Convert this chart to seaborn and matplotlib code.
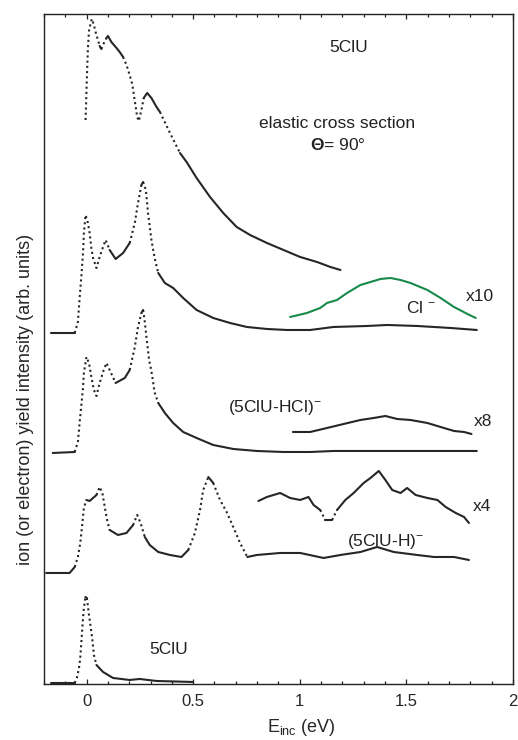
import matplotlib

matplotlib.use("Agg")
import matplotlib.pyplot as plt
import numpy as np
import seaborn as sns
from matplotlib.ticker import MultipleLocator

# energies in eV, intensities in arbitrary units (stacked as in the figure)
elastic_e = [-0.005, 0.001, 0.006, 0.011, 0.019, 0.025, 0.034, 0.042, 0.053, 0.061,
             0.069, 0.081, 0.093, 0.100, 0.116, 0.140, 0.155, 0.171, 0.187, 0.202,
             0.215, 0.223, 0.231, 0.237, 0.245, 0.257, 0.268, 0.284, 0.304, 0.328,
             0.344, 0.391, 0.438, 0.469, 0.516, 0.579, 0.641, 0.704, 0.767, 0.846,
             0.924, 1.002, 1.081, 1.144, 1.191]
elastic_y = [564, 606, 636, 653, 661, 665, 659, 652, 644, 638,
             635, 641, 646, 648, 642, 636, 632, 627, 619, 609,
             599, 587, 576, 567, 563, 574, 586, 591, 586, 577,
             572, 551, 531, 522, 506, 487, 471, 457, 449, 441,
             434, 427, 422, 417, 414]

cl_e = [-0.166, -0.056, -0.041, -0.033, -0.025, -0.017, -0.013, -0.005, 0.006, 0.014,
        0.022, 0.030, 0.046, 0.061, 0.077, 0.089, 0.108, 0.136, 0.171, 0.202,
        0.226, 0.241, 0.257, 0.265, 0.278, 0.288, 0.304, 0.320, 0.336, 0.367,
        0.406, 0.453, 0.516, 0.594, 0.673, 0.752, 0.846, 0.940, 1.049, 1.158,
        1.316, 1.410, 1.551, 1.708, 1.831]
cl_y = [351, 351, 362, 386, 407, 431, 451, 469, 461, 451,
        436, 426, 416, 427, 437, 444, 434, 425, 431, 441,
        461, 481, 499, 502, 494, 471, 444, 425, 411, 401,
        396, 386, 374, 366, 361, 357, 355, 354, 354, 357,
        358, 359, 358, 356, 354]

cl_x10_e = [0.955, 1.034, 1.096, 1.128, 1.175, 1.222, 1.285, 1.332, 1.379, 1.426,
            1.473, 1.520, 1.599, 1.661, 1.724, 1.787, 1.826]
cl_x10_y = [367, 371, 376, 381, 384, 391, 399, 402, 405, 406,
            404, 401, 394, 386, 377, 370, 366]

hcl_e = [-0.159, -0.056, -0.041, -0.033, -0.025, -0.017, -0.013, -0.001, 0.011, 0.022,
         0.034, 0.046, 0.061, 0.080, 0.093, 0.108, 0.136, 0.179, 0.202, 0.226,
         0.241, 0.257, 0.265, 0.273, 0.281, 0.288, 0.293, 0.301, 0.309, 0.315,
         0.320, 0.336, 0.367, 0.406, 0.453, 0.516, 0.594, 0.688, 0.799, 0.924,
         1.049, 1.158, 1.473, 1.831]
hcl_y = [231, 232, 242, 261, 279, 296, 311, 327, 321, 307,
         294, 288, 301, 314, 321, 314, 301, 306, 314, 337,
         357, 371, 374, 362, 346, 334, 324, 316, 306, 297,
         291, 281, 271, 261, 252, 246, 239, 235, 233, 232,
         232, 233, 233, 233]

hcl_x8_e = [0.968, 1.049, 1.128, 1.206, 1.285, 1.347, 1.402, 1.457, 1.520, 1.599,
            1.661, 1.724, 1.771, 1.806]
hcl_x8_y = [252, 252, 256, 260, 264, 266, 268, 265, 264, 261,
            257, 253, 252, 250]

h_e = [-0.190, -0.080, -0.056, -0.041, -0.030, -0.020, -0.013, -0.001, 0.014, 0.030,
       0.046, 0.061, 0.074, 0.085, 0.096, 0.108, 0.147, 0.187, 0.218, 0.237,
       0.253, 0.273, 0.296, 0.336, 0.391, 0.445, 0.477, 0.508, 0.532, 0.547,
       0.571, 0.594, 0.626, 0.657, 0.688, 0.720, 0.754, 0.799, 0.908, 1.002,
       1.112, 1.191, 1.285, 1.363, 1.441, 1.551, 1.630, 1.724, 1.794]
h_y = [111, 111, 117, 127, 141, 161, 176, 184, 183, 186,
       189, 197, 191, 177, 164, 154, 149, 151, 159, 169,
       161, 147, 139, 132, 129, 127, 134, 151, 174, 194,
       207, 201, 184, 172, 157, 141, 127, 129, 131, 131,
       126, 129, 132, 137, 132, 129, 127, 127, 124]

h_x4_e = [0.806, 0.846, 0.908, 0.955, 1.002, 1.041, 1.065, 1.096, 1.120, 1.152,
          1.175, 1.214, 1.253, 1.300, 1.332, 1.371, 1.402, 1.434, 1.473, 1.504,
          1.544, 1.599, 1.646, 1.685, 1.732, 1.771, 1.794]
h_x4_y = [183, 187, 191, 186, 184, 187, 179, 174, 164, 164,
          174, 184, 191, 201, 206, 213, 204, 194, 191, 196,
          189, 186, 184, 177, 171, 167, 161]

clu_e = [-0.166, -0.056, -0.046, -0.036, -0.030, -0.025, -0.020, -0.014, -0.006, 0.001,
         0.011, 0.019, 0.027, 0.034, 0.046, 0.077, 0.124, 0.202, 0.249, 0.328, 0.500]
clu_y = [1, 1, 6, 16, 26, 41, 57, 74, 87, 86,
         69, 57, 44, 29, 19, 12, 6, 4, 5, 3, 2]

x_ticks = [0, 0.5, 1, 1.5, 2]
x_tick_labels = ["0", "0.5", "1", "1.5", "2"]

sns.set_style("ticks")
plt.rcParams["font.family"] = ["Liberation Sans", "DejaVu Sans"]
plt.rcParams["mathtext.fontset"] = "custom"
plt.rcParams["mathtext.rm"] = "Liberation Sans"
plt.rcParams["mathtext.it"] = "Liberation Sans:italic"
plt.rcParams["mathtext.bf"] = "Liberation Sans:bold"

ink = "#262626"
green = "#178a4a"

fig = plt.figure(figsize=(5.18, 7.40), dpi=100)
ax = fig.add_axes([0.085, 0.0757, 0.905, 0.9054])
ax.set_xlim(-0.2, 2.0)
ax.set_ylim(0, 670)


def draw_trace(ax, xs, ys, color):
    # steep stretches of the scan look dotted in the original (sparse samples)
    xs = np.asarray(xs, dtype=float)
    ys = np.asarray(ys, dtype=float)
    pts = ax.transData.transform(np.column_stack([xs, ys]))
    d = np.diff(pts, axis=0)
    steep = np.abs(d[:, 1]) > 1.8 * np.abs(d[:, 0])
    start = 0
    for i in range(1, len(steep) + 1):
        if i == len(steep) or steep[i] != steep[start]:
            seg = slice(start, i + 1)
            style = (0, (1, 1.5)) if steep[start] else "-"
            sns.lineplot(x=xs[seg], y=ys[seg], ax=ax, sort=False, estimator=None,
                         color=color, lw=1.5, linestyle=style)
            start = i


curves = [
    (elastic_e, elastic_y, ink),
    (cl_e, cl_y, ink),
    (cl_x10_e, cl_x10_y, green),
    (hcl_e, hcl_y, ink),
    (hcl_x8_e, hcl_x8_y, ink),
    (h_e, h_y, ink),
    (h_x4_e, h_x4_y, ink),
    (clu_e, clu_y, ink),
]
for xs, ys, col in curves:
    draw_trace(ax, xs, ys, col)

ax.set_xlim(-0.2, 2.0)
ax.set_ylim(0, 670)
ax.set_yticks([])
ax.set_xticks(x_ticks)
ax.set_xticklabels(x_tick_labels)
ax.xaxis.set_minor_locator(MultipleLocator(0.1))
ax.tick_params(axis="x", which="both", direction="in", top=True, labelsize=12, pad=7,
               width=0.9, color="#222222")
ax.tick_params(axis="x", which="major", length=3.5)
ax.tick_params(axis="x", which="minor", length=2)
for sp in ax.spines.values():
    sp.set_visible(True)
    sp.set_linewidth(1.0)
    sp.set_color("#222222")

ax.set_xlabel(r"E$_{\mathrm{inc}}$ (eV)", fontsize=13)
ax.xaxis.set_label_coords(0.548, -0.049)
ax.set_ylabel("ion (or electron) yield intensity (arb. units)", fontsize=13)
ax.yaxis.set_label_coords(-0.022, 0.424)

txt = dict(fontsize=12.5, color="#222222")
ax.text(1.228, 636, "5ClU", ha="center", va="center", **txt)
ax.text(1.176, 560, "elastic cross section", ha="center", va="center", **txt)
ax.text(1.181, 539, r"$\mathbf{\Theta}$= 90°", ha="center", va="center", **txt)
ax.text(1.501, 376, r"Cl $^{-}$", ha="left", va="center", **txt)
ax.text(1.779, 387, "x10", ha="left", va="center", **txt)
ax.text(0.664, 276, r"(5ClU-HCl)$^{-}$", ha="left", va="center", **txt)
ax.text(1.816, 262, "x8", ha="left", va="center", **txt)
ax.text(1.224, 142, r"(5ClU-H)$^{-}$", ha="left", va="center", **txt)
ax.text(1.812, 177, "x4", ha="left", va="center", **txt)
ax.text(0.384, 34, "5ClU", ha="center", va="center", **txt)

fig.savefig("out.png", dpi=100)
